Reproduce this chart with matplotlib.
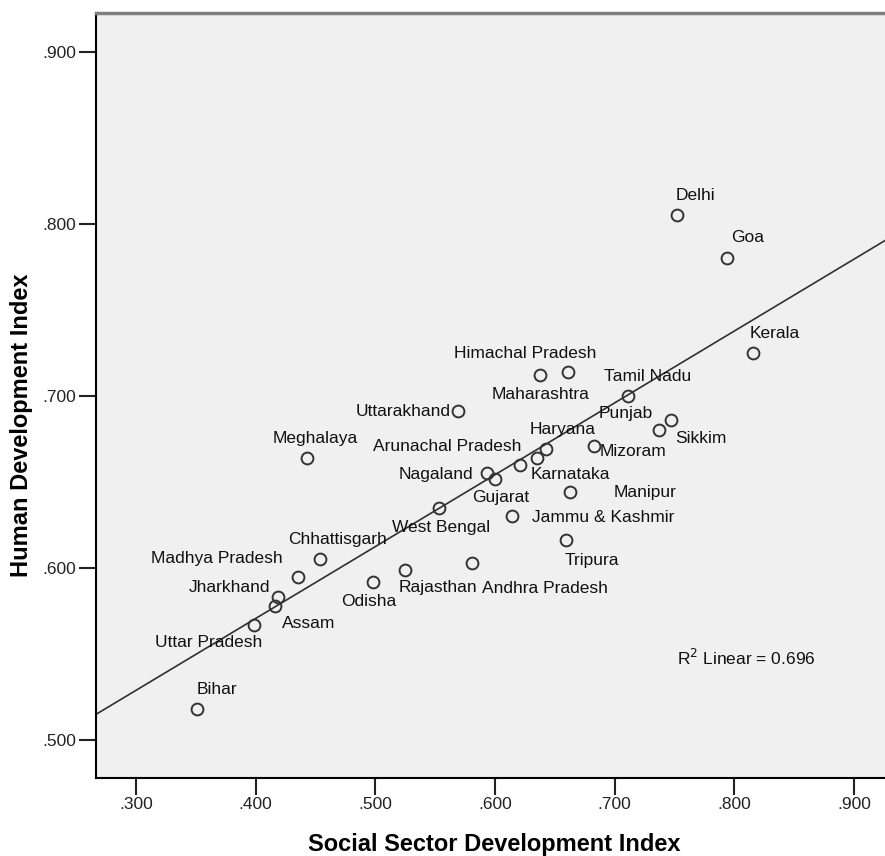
import numpy as np
import matplotlib
matplotlib.use("Agg")
import matplotlib.pyplot as plt

# state-wise indices
states = ["Delhi", "Goa", "Kerala", "Himachal Pradesh", "Maharashtra", "Tamil Nadu",
          "Punjab", "Sikkim", "Mizoram", "Haryana", "Karnataka", "Arunachal Pradesh",
          "Nagaland", "Gujarat", "West Bengal", "Jammu & Kashmir", "Manipur", "Tripura",
          "Uttarakhand", "Meghalaya", "Chhattisgarh", "Madhya Pradesh", "Rajasthan",
          "Andhra Pradesh", "Odisha", "Jharkhand", "Assam", "Uttar Pradesh", "Bihar"]
ssdi = [0.752, 0.794, 0.816, 0.661, 0.638, 0.711,
        0.737, 0.747, 0.683, 0.643, 0.635, 0.621,
        0.593, 0.600, 0.553, 0.614, 0.663, 0.659,
        0.569, 0.443, 0.454, 0.435, 0.525,
        0.581, 0.498, 0.419, 0.416, 0.399, 0.351]
hdi = [0.805, 0.780, 0.725, 0.714, 0.712, 0.700,
       0.680, 0.686, 0.671, 0.669, 0.664, 0.660,
       0.655, 0.652, 0.635, 0.630, 0.644, 0.616,
       0.691, 0.664, 0.605, 0.595, 0.599,
       0.603, 0.592, 0.583, 0.578, 0.567, 0.518]
r2_text = "0.696"

# label offsets in pixels (dx right, dy down) from each point
label_off = {
    "Delhi": (19, -20), "Goa": (20, -21), "Kerala": (21, -20),
    "Himachal Pradesh": (-43, -18), "Maharashtra": (0, 19), "Tamil Nadu": (20, -20),
    "Punjab": (-33, -17), "Sikkim": (30, 18), "Mizoram": (39, 6), "Haryana": (16, -20),
    "Karnataka": (34, 17), "Arunachal Pradesh": (-73, -18), "Nagaland": (-51, 1),
    "Gujarat": (6, 19), "West Bengal": (2, 20), "Jammu & Kashmir": (91, 1),
    "Manipur": (75, 0), "Tripura": (26, 20), "Uttarakhand": (-55, 0),
    "Meghalaya": (8, -19), "Chhattisgarh": (17, -20), "Madhya Pradesh": (-81, -18),
    "Rajasthan": (33, 18), "Andhra Pradesh": (73, 26), "Odisha": (-4, 20),
    "Jharkhand": (-49, -10), "Assam": (34, 18), "Uttar Pradesh": (-46, 18),
    "Bihar": (20, -20),
}

plt.rcParams["font.family"] = ["Liberation Sans", "DejaVu Sans"]

fig = plt.figure(figsize=(8.85, 8.56), dpi=100)
ax = fig.add_axes([96 / 885, 78 / 856, 789 / 885, 765 / 856])
ax.set_facecolor("#f0f0f0")

x = np.array(ssdi)
y = np.array(hdi)

xlim = (0.2666, 0.9259)
ylim = (0.4779, 0.9227)

# linear fit line
slope, intercept = np.polyfit(x, y, 1)
xs = np.array(xlim)
ax.plot(xs, slope * xs + intercept, color="#303030", lw=1.2, zorder=2)

ax.plot(x, y, "o", ms=8.5, mfc="none", mec="#333333", mew=1.4, zorder=3)

for name, xi, yi in zip(states, ssdi, hdi):
    dx, dy = label_off[name]
    ax.annotate(name, (xi, yi), xytext=(dx, -dy), textcoords="offset pixels",
                ha="center", va="center", fontsize=12.5, color="#111111", zorder=4)

ax.text(746 / 885, 1 - 658 / 856, "R$^2$ Linear = " + r2_text, transform=fig.transFigure,
        ha="center", va="center", fontsize=12.5, color="#111111")

ax.set_xlim(*xlim)
ax.set_ylim(*ylim)
xt = [0.3, 0.4, 0.5, 0.6, 0.7, 0.8, 0.9]
yt = [0.5, 0.6, 0.7, 0.8, 0.9]
ax.set_xticks(xt)
ax.set_xticklabels([f"{v:.3f}"[1:] for v in xt])
ax.set_yticks(yt)
ax.set_yticklabels([f"{v:.3f}"[1:] for v in yt])
ax.tick_params(length=12, width=1.5, labelsize=12.5, pad=2, colors="#222222")

ax.spines["right"].set_visible(False)
ax.spines["top"].set_color("#808080")
ax.spines["top"].set_linewidth(2.5)
ax.spines["left"].set_linewidth(1.5)
ax.spines["bottom"].set_linewidth(1.5)

fig.text(494 / 885, 1 - 844 / 856, "Social Sector Development Index", ha="center", va="center",
         fontsize=17, fontweight="bold")
fig.text(22 / 885, 1 - 425 / 856, "Human Development Index", ha="center", va="center",
         rotation=90, fontsize=17, fontweight="bold")

fig.savefig("out.png", dpi=100)
